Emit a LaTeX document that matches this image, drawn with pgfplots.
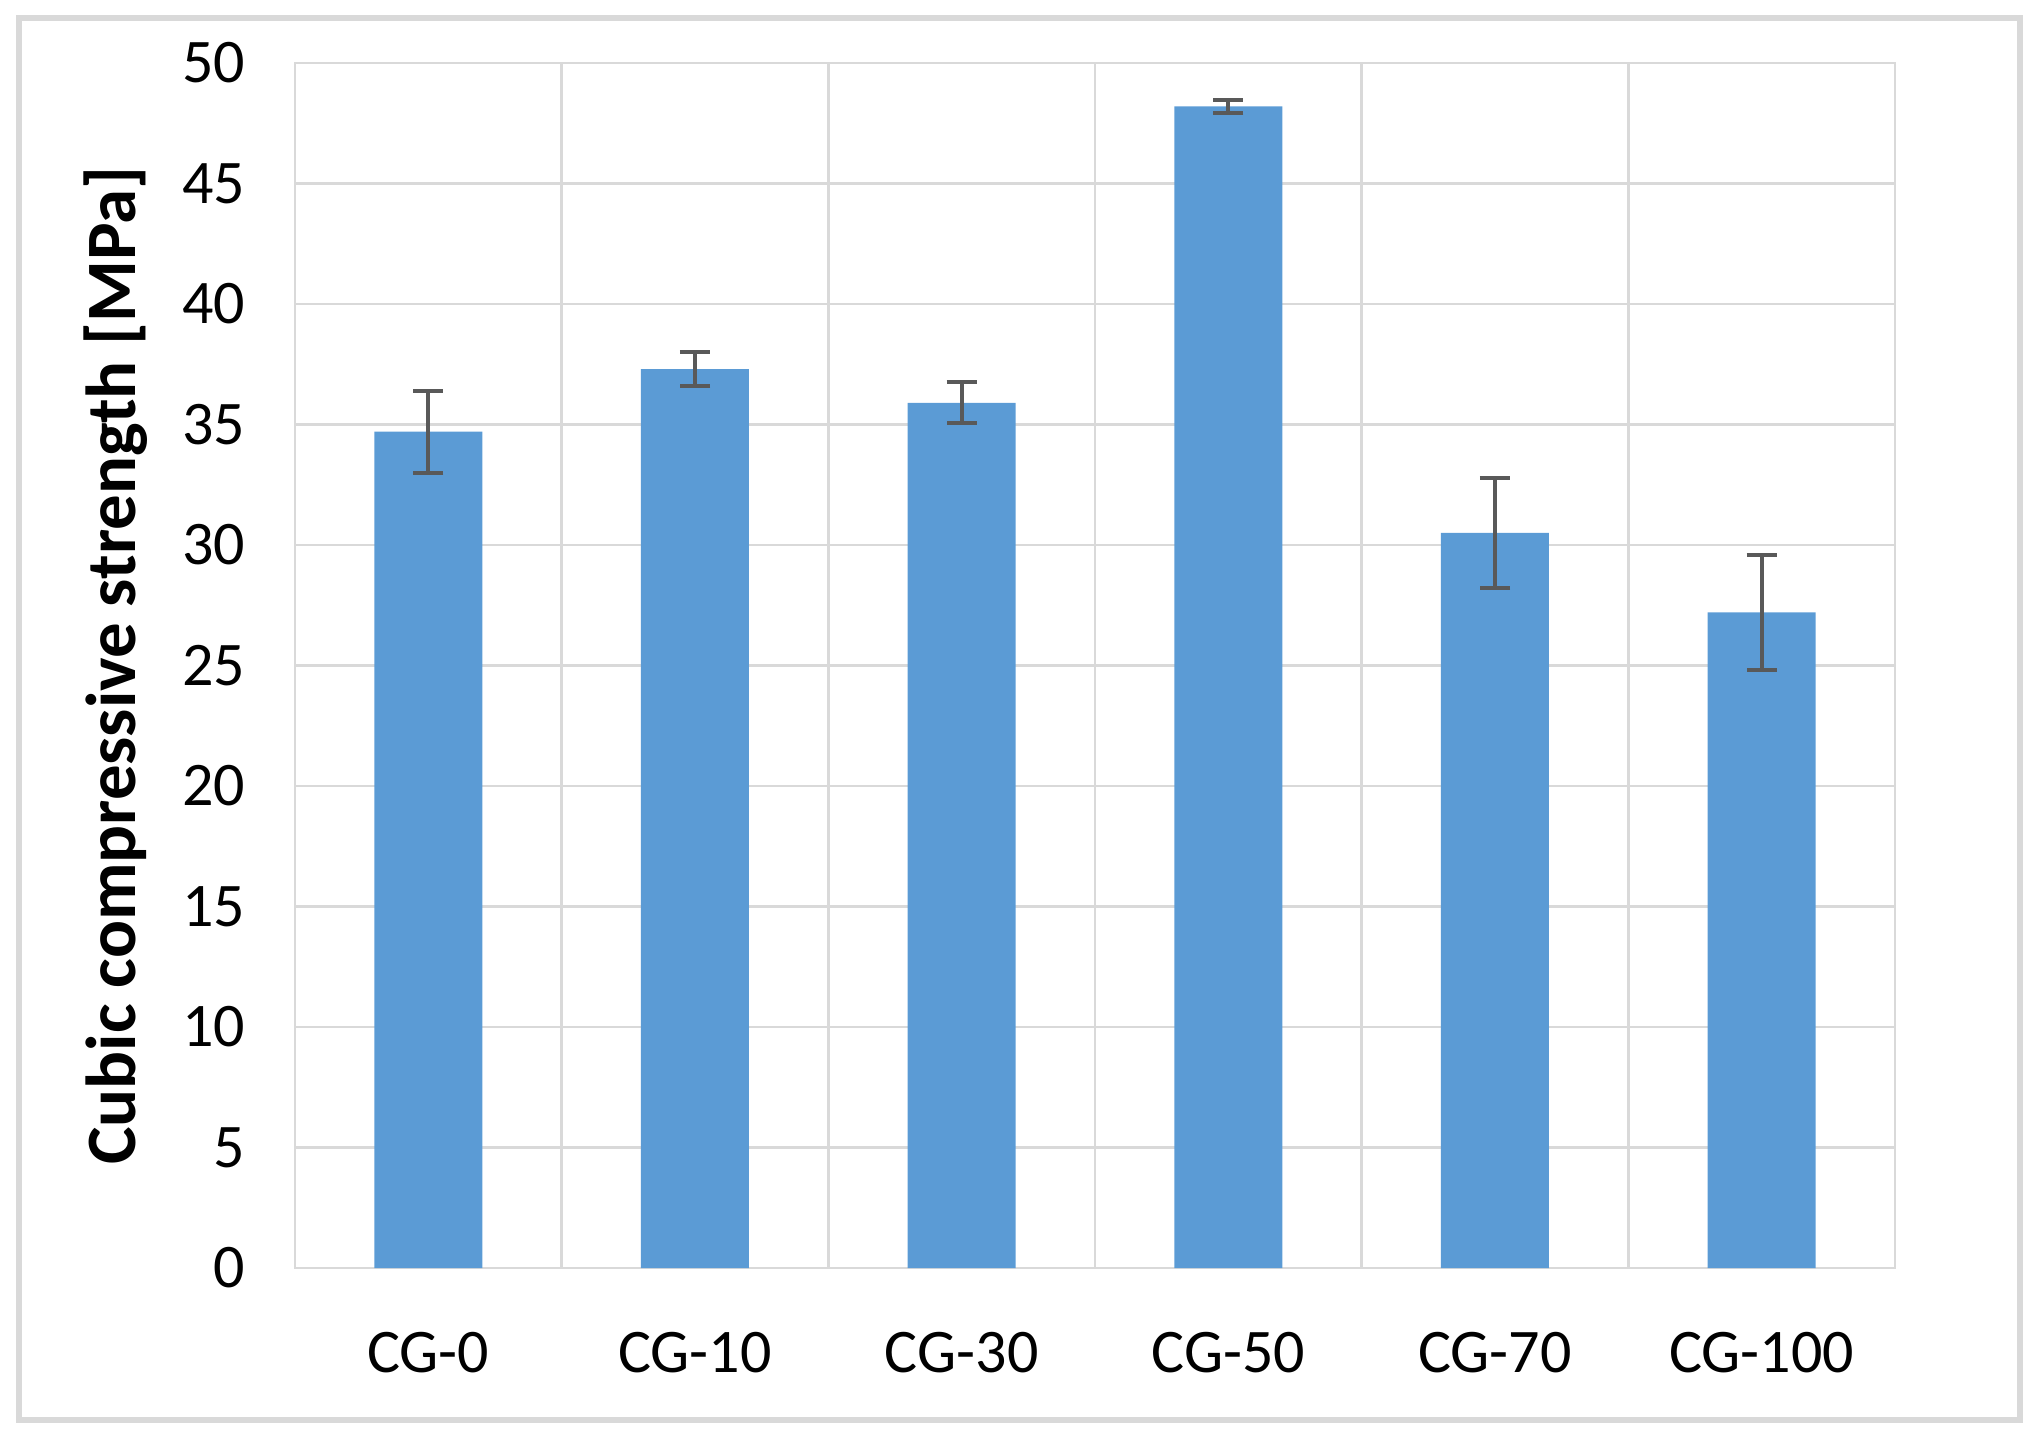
\documentclass[border=0pt]{standalone}
\usepackage{pgfplots}
\pgfplotsset{compat=1.18}
\usepackage{fontspec}
\setmainfont{Carlito}
\definecolor{barblue}{HTML}{5B9BD5}
\definecolor{gridgray}{HTML}{D9D9D9}
\definecolor{axisgray}{HTML}{BFBFBF}
\definecolor{errgray}{HTML}{595959}
\begin{document}
\begin{tikzpicture}
\path[use as bounding box] (-73.75bp,-42.75bp) rectangle (436bp,317bp);
\draw[gridgray, line width=1.5bp] (-68.875bp,-38bp) rectangle (431.125bp,312.375bp);
\begin{axis}[
  scale only axis,
  width=400bp, height=301.25bp,
  xmin=-0.5, xmax=5.5,
  ymin=0, ymax=50,
  ytick={0,5,...,50},
  xtick={0,1,2,3,4,5},
  xticklabels={CG-0,CG-10,CG-30,CG-50,CG-70,CG-100},
  minor xtick={0.5,1.5,2.5,3.5,4.5},
  xmajorgrids=false,
  xminorgrids=true,
  ymajorgrids=true,
  grid style={gridgray, line width=0.6bp},
  minor grid style={gridgray, line width=0.6bp},
  major tick length=0pt, minor tick length=0pt,
  axis line style={gridgray, line width=0.6bp},
  every axis x line/.append style={axisgray},
  axis on top=false,
  tick label style={font=\fontsize{15.5bp}{18bp}\selectfont, text=black},
  /pgf/number format/assume math mode=true,
  yticklabel style={xshift=-9bp},
  xticklabel style={yshift=-12.5bp},
  ylabel={\textbf{Cubic compressive strength [MPa]}},
  every axis y label/.style={at={(-44.75bp,150.625bp)}, rotate=90, anchor=center,
    font=\fontsize{17.7bp}{21bp}\selectfont},
  ybar, bar width=27bp,
  clip=false,
]
\addplot[fill=barblue, draw=none,
  error bars/.cd, y dir=both, y explicit,
  error bar style={errgray, line width=1bp},
  error mark options={errgray, line width=1bp, mark size=3.75bp, rotate=90}]
  coordinates {
  (0,34.7) +- (0,1.7)
  (1,37.3) +- (0,0.7)
  (2,35.9) +- (0,0.85)
  (3,48.2) +- (0,0.28)
  (4,30.5) +- (0,2.3)
  (5,27.2) +- (0,2.4)
  };
\end{axis}
\end{tikzpicture}
\end{document}
